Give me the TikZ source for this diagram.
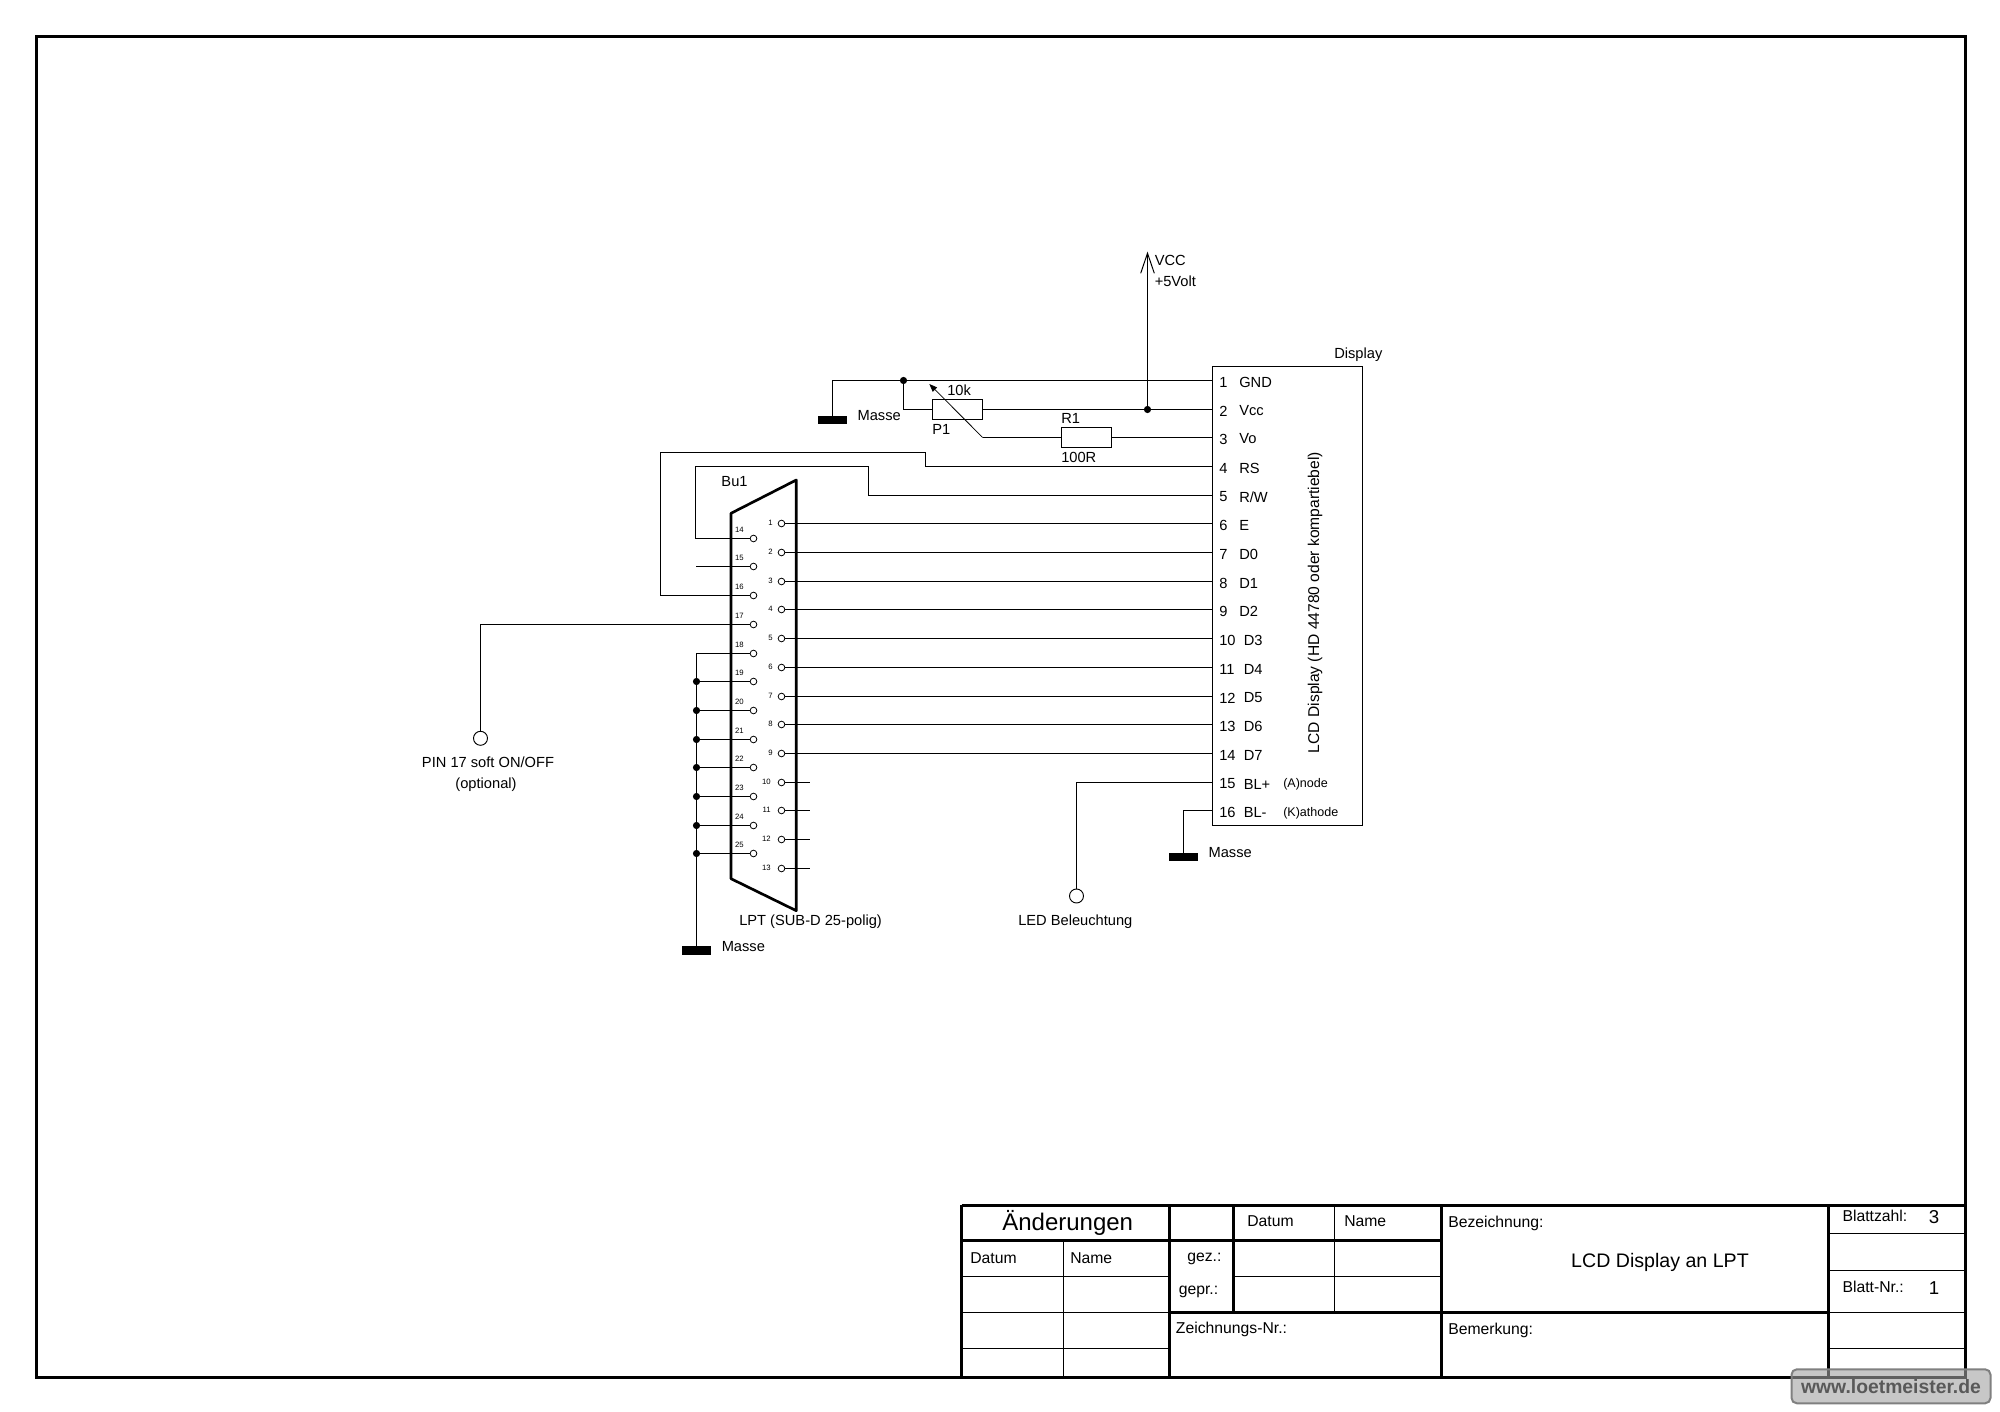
\documentclass[tikz,border=0pt]{standalone}
\usepackage{fontspec}
\setmainfont{Liberation Sans}
\usetikzlibrary{arrows.meta}
\tikzset{
  wire/.style={line width=.75pt},
  thick line/.style={line width=2.25pt},
  thin line/.style={line width=.75pt},
  lbl/.style={inner sep=0pt,anchor=west,font=\fontsize{11}{12}\selectfont},
  ttl/.style={inner sep=0pt,anchor=west,font=\fontsize{11.8}{13}\selectfont},
  small/.style={inner sep=0pt,anchor=west,font=\fontsize{9.4}{11}\selectfont},
  tiny pin/.style={inner sep=0pt,font=\fontsize{5.8}{6}\selectfont},
  res/.style={draw,line width=.75pt,minimum width=37.5pt,minimum height=15pt,inner sep=0pt},
  junc/.style={circle,fill=black,inner sep=0pt,minimum size=5.4pt},
  pinc/.style={circle,draw,fill=white,line width=.6pt,inner sep=0pt,minimum size=5pt},
  testp/.style={circle,draw,line width=.7pt,inner sep=0pt,minimum size=10.5pt},
  gndbar/.style={fill=black,inner sep=0pt,minimum width=22.3pt,minimum height=6pt},
}
\begin{document}
\begin{tikzpicture}[x=.75pt,y=-.75pt]
\useasboundingbox (0,0) rectangle (2000,1412);
\draw[thick line] (36.5,36.5) rectangle (1965.5,1377.5);
\node[draw,line width=.75pt,minimum width=112.5pt,minimum height=344.25pt,inner sep=0pt] (disp) at (1287.5,596) {};
\foreach \n/\t/\lx/\y in {1/GND/1239/380.5,2/Vcc/1239/409.5,3/Vo/1239/437.5,4/RS/1239/466.5,5/{R/W}/1239/495.5,6/E/1239/523.5,7/D0/1239/552.5,8/D1/1239/581.5,9/D2/1239/609.5,10/D3/1243.5/638.5,11/D4/1243.5/667.5,12/D5/1243.5/696.5,13/D6/1243.5/724.5,14/D7/1243.5/753.5,15/BL+/1243.5/782.5,16/BL-/1243.5/810.5}{
  \coordinate (d\n) at (1212.5,\y);
  \node[lbl] (num\n) at (1219,\y+1.5) {\n};
  \node[lbl] (lab\n) at (\lx,\y+1.5) {\t};
}
\node[lbl] (disptxt) at (1334,355) {Display};
\node[rotate=90,inner sep=0pt,font=\fontsize{11.7}{13}\selectfont] (lcd) at (1315,602.6) {LCD Display (HD 44780 oder kompartiebel)};
\node[small] (anode) at (1283,784) {(A)node};
\node[small] (kathode) at (1283,813) {(K)athode};

\node[gndbar] (gndA) at (832.5,420) {};
\node[lbl] (masseA) at (857.3,415.5) {Masse};
\node[junc] (jA) at (903.5,380.5) {};
\node[res] (P1) at (957.5,409.5) {};
\node[lbl] (p1val) at (947,390) {10k};
\node[lbl] (p1txt) at (932,429.3) {P1};
\node[res] (R1) at (1086.5,437.5) {};
\node[lbl] (r1txt) at (1061,418) {R1};
\node[lbl] (r1val) at (1061,457.3) {100R};
\node[junc] (jV) at (1147.5,409.5) {};
\coordinate (vcc) at (1147.5,251.7);
\node[lbl] (vcctxt) at (1154.5,260) {VCC};
\node[lbl] (volt) at (1154.5,281.3) {+5Volt};
\coordinate (wip) at (982.7,437.5);
\coordinate (wiptip) at (929.3,384);
\draw[wire] (gndA.north) |- (d1);
\draw[wire] (jA) |- (P1.west);
\draw[wire] (P1.east) -- (d2);
\draw[wire,-{Straight Barb[length=15pt,width=10.2pt]}] (jV) -- (vcc);
\draw[wire] (wip) -- (R1.west);
\draw[wire] (R1.east) -- (d3);
\draw[line width=.55pt,-{Triangle[length=6pt,width=4.5pt]}] (wip) -- (wiptip);

\foreach \n/\y in {1/523.5,2/552.5,3/581.5,4/609.5,5/638.5,6/667.5,7/696.5,8/724.5,9/753.5}{
  \pgfmathtruncatemacro\r{\n+5}
  \node[pinc] (rp\n) at (781.5,\y) {};
  \node[tiny pin,anchor=east] (rl\n) at (773,\y-1) {\n};
  \draw[wire] (rp\n) -- (d\r);
}
\foreach \n/\y in {10/782.5,11/810.5,12/839.5,13/868.5}{
  \node[pinc] (rp\n) at (781.5,\y) {};
  \node[tiny pin,anchor=east] (rl\n) at (771,\y-1) {\n};
  \coordinate (rs\n) at (810,\y);
  \draw[wire] (rp\n) -- (rs\n);
}
\foreach \n/\y in {14/538.5,15/566.5,16/595.5,17/624.5,18/653.5,19/681.5,20/710.5,21/739.5,22/767.5,23/796.5,24/825.5,25/853.5}{
  \node[pinc] (lp\n) at (753.5,\y) {};
  \node[tiny pin] (ll\n) at (739.3,\y-8.7) {\n};
}
\coordinate (stub15) at (696,566.5);
\draw[wire] (lp15) -- (stub15);
\draw[wire] (d4) -| (925.5,452.5) -| (660.5,595.5) -- (lp16);
\draw[wire] (d5) -| (868.5,466.5) -| (695.5,538.5) -- (lp14);
\node[testp] (tpP) at (480.5,738.3) {};
\draw[wire] (lp17) -| (tpP);
\node[lbl,anchor=center] (pintxt) at (488,762) {PIN 17 soft ON/OFF};
\node[lbl,anchor=center] (opt) at (486,785) {(optional)};

\node[gndbar,minimum height=6.6pt] (gndL) at (696.5,950.5) {};
\node[lbl] (masseL) at (721.5,946.5) {Masse};
\draw[wire] (lp18) -| (gndL.north);
\foreach \n in {19,...,25}{
  \node[junc] (jg\n) at (lp\n -| gndL) {};
  \draw[wire] (jg\n) -- (lp\n);
}
\draw[line width=2pt,line join=round] (731,513.3) -- (796.3,480) -- (796.3,910.7) -- (731,878.7) -- cycle;
\node[lbl] (bu) at (721.2,482) {Bu1};
\node[lbl] (lpt) at (739,921.5) {LPT (SUB-D 25-polig)};

\node[testp] (tpL) at (1076.5,896) {};
\draw[wire] (d15) -| (tpL);
\node[lbl] (led) at (1018,921.5) {LED Beleuchtung};
\node[gndbar] (gndD) at (1183.5,857) {};
\draw[wire] (d16) -| (gndD.north);
\node[lbl] (masseD) at (1208.3,852.7) {Masse};

\foreach \xa/\ya/\xb/\yb in {961.7/1205/1965.5/1205,961.7/1240.3/1441.7/1240.3,1169.7/1312.3/1828.3/1312.3,961.7/1205/961.7/1377.5,1169.7/1205/1169.7/1377.5,1233.7/1205/1233.7/1312.3,1441.7/1205/1441.7/1377.5,1828.3/1205/1828.3/1377.5}{
  \draw[thick line] (\xa,\ya) -- (\xb,\yb);
}
\foreach \xa/\ya/\xb/\yb in {1063.5/1240.3/1063.5/1377.5,1334.5/1205/1334.5/1312.3,961.7/1276.5/1169.7/1276.5,961.7/1312.5/1169.7/1312.5,961.7/1348.5/1169.7/1348.5,1233.7/1276.5/1441.7/1276.5,1828.3/1233.5/1965.5/1233.5,1828.3/1270.5/1965.5/1270.5,1828.3/1312.5/1965.5/1312.5,1828.3/1348.5/1965.5/1348.5}{
  \draw[thin line] (\xa,\ya) -- (\xb,\yb);
}
\node[inner sep=0pt,font=\fontsize{18}{20}\selectfont] (aend) at (1067.7,1222.7) {Änderungen};
\foreach \x/\y/\t [count=\i] in {1247/1221.2/Datum,1344/1221.2/Name,970/1257.7/Datum,1070/1258.3/Name,1178.5/1291.5/gepr.:,1175.7/1329.5/Zeichnungs-Nr.:,1448/1223/Bezeichnung:,1448/1330.5/Bemerkung:,1842.3/1216/Blattzahl:,1842.3/1287.3/Blatt-Nr.:}{
  \node[ttl] (ttl\i) at (\x,\y) {\t};
}
\node[ttl,anchor=east] (gez) at (1221.7,1259) {gez.:};
\node[inner sep=0pt,font=\fontsize{14.7}{16}\selectfont] (title) at (1660,1262) {LCD Display an LPT};
\node[inner sep=0pt,font=\fontsize{14}{16}\selectfont] (blz) at (1934,1216.7) {3};
\node[inner sep=0pt,font=\fontsize{14}{16}\selectfont] (bln) at (1934,1288.3) {1};
\node[draw=black!50,line width=1.5pt,fill=black!37,fill opacity=.6,text opacity=1,text=black!65,rounded corners=4pt,inner sep=0pt,minimum width=149.25pt,minimum height=25.5pt,font=\fontsize{14.5}{16}\bfseries\selectfont] (mark) at (1891,1386.3) {www.loetmeister.de};
\end{tikzpicture}
\end{document}
